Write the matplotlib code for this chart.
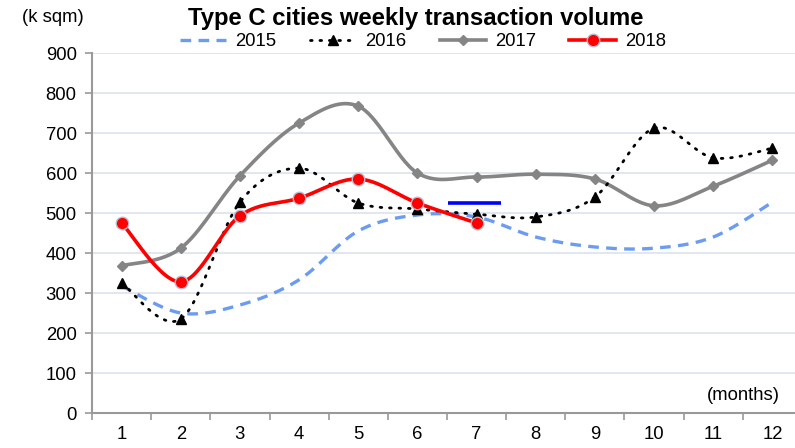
import numpy as np
import matplotlib
matplotlib.use("Agg")
import matplotlib.pyplot as plt
from matplotlib.lines import Line2D

plt.rcParams['font.family'] = ['Liberation Sans', 'DejaVu Sans']

months = [1, 2, 3, 4, 5, 6, 7, 8, 9, 10, 11, 12]
month_labels = [str(m) for m in months]
v2015 = [318, 250, 270, 333, 455, 495, 490, 440, 415, 412, 440, 527]
v2016 = [325, 235, 527, 612, 525, 510, 497, 490, 540, 712, 638, 662]
v2017 = [368, 412, 593, 725, 767, 600, 590, 597, 585, 518, 567, 632]
months_2018 = [1, 2, 3, 4, 5, 6, 7]
v2018 = [475, 328, 493, 537, 585, 525, 475]
mark_x = [6.52, 7.41]
mark_y = [525, 525]
yticks = [0, 100, 200, 300, 400, 500, 600, 700, 800, 900]


def smooth(x, y, n=30):
    x = np.asarray(x, float)
    y = np.asarray(y, float)
    P = np.column_stack([x, y])
    Pp = np.vstack([P[0], P, P[-1]])
    out = []
    t = np.linspace(0, 1, n)[:, None]
    for i in range(len(P) - 1):
        p0, p1, p2, p3 = Pp[i], Pp[i + 1], Pp[i + 2], Pp[i + 3]
        c1 = p1 + (p2 - p0) / 6.0
        c2 = p2 - (p3 - p1) / 6.0
        seg = ((1 - t) ** 3) * p1 + 3 * ((1 - t) ** 2) * t * c1 + 3 * (1 - t) * t ** 2 * c2 + t ** 3 * p2
        out.append(seg if i == 0 else seg[1:])
    s = np.vstack(out)
    return s[:, 0], s[:, 1]


fig = plt.figure(figsize=(7.95, 4.48), dpi=100)
ax = fig.add_axes([92 / 795, 1 - 413 / 448, (802 - 92) / 795, (413 - 53) / 448])

c2015 = '#6b9cf2'
c2017 = '#858585'
fs = 13.3

sx, sy = smooth(months, v2015)
ax.plot(sx, sy, color=c2015, lw=2.4, dashes=(3.2, 2.2), zorder=3)

sx, sy = smooth(months, v2016)
ax.plot(sx, sy, color='black', lw=2.0, dashes=(0.6, 2.8), dash_capstyle='round', zorder=4)
ax.plot(months, v2016, ls='none', marker='^', color='black', ms=7, zorder=5)

sx, sy = smooth(months, v2017)
ax.plot(sx, sy, color=c2017, lw=2.6, zorder=3)
ax.plot(months, v2017, ls='none', marker='D', color=c2017, ms=5, zorder=3)

sx, sy = smooth(months_2018, v2018)
ax.plot(sx, sy, color='#ff0000', lw=2.6, zorder=6)
ax.plot(months_2018, v2018, ls='none', marker='o', color='#ff0000', ms=9,
        markeredgecolor='#b8bcd0', markeredgewidth=1.0, zorder=7)

ax.plot(mark_x, mark_y, color='#0000ff', lw=2.6, solid_capstyle='butt', zorder=6)

ax.set_xlim(0.5, 12.5)
ax.set_ylim(0, 900)
ax.set_yticks(yticks)
ax.set_yticklabels([str(v) for v in yticks], fontsize=fs)
ax.set_xticks(months)
ax.set_xticklabels(month_labels, fontsize=fs)
ax.set_xticks(np.arange(0.5, 13, 1), minor=True)
ax.tick_params(axis='x', which='major', length=0, pad=9)
ax.tick_params(axis='x', which='minor', length=5, color='#999999', width=1.2)
ax.tick_params(axis='y', length=5, color='#999999', width=1.2, pad=6)
for sp in ['top', 'right']:
    ax.spines[sp].set_visible(False)
for sp in ['left', 'bottom']:
    ax.spines[sp].set_color('#999999')
    ax.spines[sp].set_linewidth(1.5)
ax.grid(axis='y', color='#dde3ec', lw=1.2, zorder=0)
ax.set_axisbelow(True)

fig.text(416 / 795, 1 - 18 / 448, 'Type C cities weekly transaction volume',
         ha='center', va='center', fontsize=17.2, fontweight='bold')
fig.text(53 / 795, 1 - 18 / 448, '(k sqm)', ha='center', va='center', fontsize=fs)
fig.text(743 / 795, 1 - 395 / 448, '(months)', ha='center', va='center', fontsize=fs)

handles = [
    Line2D([], [], color=c2015, lw=2.4, dashes=(3.2, 2.2)),
    Line2D([], [], color='black', lw=2.0, dashes=(0.6, 2.8), dash_capstyle='round', marker='^', ms=7),
    Line2D([], [], color=c2017, lw=2.6, marker='D', ms=5),
    Line2D([], [], color='#ff0000', lw=2.6, marker='o', ms=9, markeredgecolor='#b8bcd0'),
]
fig.legend(handles, ['2015', '2016', '2017', '2018'], loc='center',
           bbox_to_anchor=(423 / 795, 1 - 42 / 448), ncol=4, frameon=False,
           fontsize=fs, handlelength=2.5, handletextpad=0.5, columnspacing=1.8,
           borderaxespad=0, borderpad=0)

fig.savefig('out.png', dpi=100)
